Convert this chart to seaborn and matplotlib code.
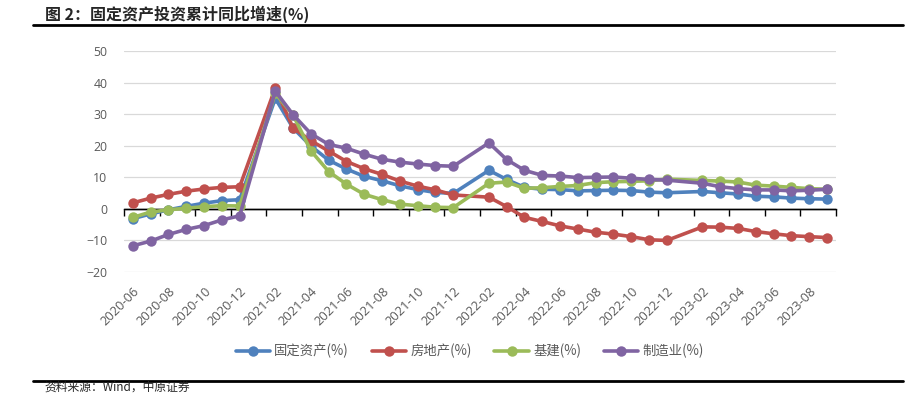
"""
固定资产投资累计同比增速 — recreate chart (out.png)
"""

import numpy as np
import pandas as pd
import matplotlib
matplotlib.use("Agg")
import matplotlib.pyplot as plt
from matplotlib.lines import Line2D
import seaborn as sns

# ---------------------------------------------------------------------------
# Data (cumulative yoy %, Jan merged into Feb)
# ---------------------------------------------------------------------------

months = [p.strftime("%Y-%m") for p in pd.period_range("2020-06", "2023-09", freq="M")
          if p.month != 1]

fai = [-3.1, -1.6, -0.3, 0.8, 1.8, 2.6, 2.9,
       35.0, 25.6, 19.9, 15.4, 12.6, 10.3, 8.9, 7.3, 6.1, 5.2, 4.9,
       12.2, 9.3, 6.8, 6.2, 6.1, 5.7, 5.8, 5.9, 5.8, 5.3, 5.1,
       5.5, 5.1, 4.7, 4.0, 3.8, 3.4, 3.2, 3.1]
realestate = [1.9, 3.4, 4.6, 5.6, 6.3, 6.8, 7.0,
              38.3, 25.6, 21.6, 18.3, 15.0, 12.7, 10.9, 8.8, 7.2, 6.0, 4.4,
              3.7, 0.7, -2.7, -4.0, -5.4, -6.4, -7.4, -8.0, -8.8, -9.8, -10.0,
              -5.7, -5.8, -6.2, -7.2, -7.9, -8.5, -8.8, -9.1]
infra = [-2.7, -1.0, -0.3, 0.2, 0.7, 1.0, 0.9,
         36.6, 29.7, 18.4, 11.8, 7.8, 4.6, 2.9, 1.5, 1.0, 0.5, 0.4,
         8.1, 8.5, 6.5, 6.7, 7.1, 7.4, 8.3, 8.6, 8.7, 8.9, 9.4,
         9.0, 8.8, 8.5, 7.5, 7.2, 6.8, 6.4, 6.2]
manuf = [-11.7, -10.2, -8.1, -6.5, -5.3, -3.5, -2.2,
         37.3, 29.8, 23.8, 20.4, 19.2, 17.3, 15.7, 14.8, 14.2, 13.7, 13.5,
         20.9, 15.6, 12.2, 10.6, 10.4, 9.9, 10.0, 10.1, 9.7, 9.3, 9.1,
         8.1, 7.0, 6.4, 6.0, 6.0, 5.7, 5.9, 6.2]

series_names = ["固定资产(%)", "房地产(%)", "基建(%)", "制造业(%)"]
COLORS = ["#4F81BD", "#C0504D", "#9BBB59", "#8064A2"]

all_months = [p.strftime("%Y-%m") for p in pd.period_range("2020-06", "2023-09", freq="M")]
pos = {m: i for i, m in enumerate(all_months)}

frames = []
for name, vals in zip(series_names, [fai, realestate, infra, manuf]):
    frames.append(pd.DataFrame({"month": months, "x": [pos[m] for m in months],
                                "value": vals, "series": name}))
df = pd.concat(frames, ignore_index=True)

# ---------------------------------------------------------------------------
# Plot
# ---------------------------------------------------------------------------

sns.set_style("white")
plt.rcParams["font.family"] = ["Open Sans", "Noto Sans CJK SC", "DejaVu Sans"]

fig = plt.figure(figsize=(9.12, 3.95), dpi=100)
ax = fig.add_axes([124 / 912, 1 - 272 / 395, (836 - 124) / 912, (272 - 51) / 395])

ax.axhline(0, color="black", linewidth=1, zorder=1.5)
sns.lineplot(data=df, x="x", y="value", hue="series", hue_order=series_names,
             palette=COLORS, marker="o", markersize=7.5, markeredgewidth=0,
             linewidth=2.6, legend=False, ax=ax, sort=True, zorder=3)

ax.set_xlim(-0.5, len(all_months) - 0.5)
ax.set_ylim(-20, 50)
ax.set_yticks(np.arange(-20, 51, 10))
ax.yaxis.grid(True, color="#D9D9D9", linewidth=0.9)
ax.xaxis.grid(False)
for s in ax.spines.values():
    s.set_visible(False)
ax.set_xlabel("")
ax.set_ylabel("")

label_idx = list(range(0, len(all_months), 2))
ax.set_xticks(label_idx)
ax.set_xticklabels([all_months[i] for i in label_idx], rotation=45, ha="right",
                   rotation_mode="anchor", fontsize=9.3, color="#595959")
ax.tick_params(axis="x", length=0, pad=9)
ax.tick_params(axis="y", length=0, pad=12, labelsize=8.8, labelcolor="#595959")

# zero axis with category tick marks
zero = ax.secondary_xaxis(20 / 70)
zero.set_xticks(np.arange(-0.5, len(all_months), 2))
zero.tick_params(axis="x", length=5, width=1, color="black", direction="out",
                 labelbottom=False)
zero.spines["bottom"].set_color("black")
zero.spines["bottom"].set_linewidth(1)

# legend
handles = [Line2D([0], [0], color=c, linewidth=2.6, marker="o", markersize=7.5,
                  markeredgewidth=0) for c in COLORS]
fig.legend(handles, series_names, loc="center", bbox_to_anchor=(0.515, 1 - 351 / 395),
           ncol=4, frameon=False, handlelength=2.6, columnspacing=1.7,
           handletextpad=0.3, labelcolor="#595959",
           prop={"family": ["Noto Sans CJK SC"], "size": 9.6})

# title / rules / source
fig.text(45 / 912, 1 - 14 / 395, "图 2：固定资产投资累计同比增速(%)", fontsize=11.5,
         fontweight="bold", va="center", ha="left",
         family=["Noto Sans CJK SC", "DejaVu Sans"])
fig.add_artist(Line2D([33 / 912, 903 / 912], [1 - 25 / 395] * 2, color="black", linewidth=2))
fig.add_artist(Line2D([33 / 912, 903 / 912], [1 - 381 / 395] * 2, color="black", linewidth=2))
fig.text(44 / 912, 1 - 394 / 395, "资料来源：Wind，中原证券", fontsize=8.5, va="bottom",
         ha="left", family=["Noto Sans CJK SC", "DejaVu Sans"])

fig.savefig("out.png", dpi=100)
